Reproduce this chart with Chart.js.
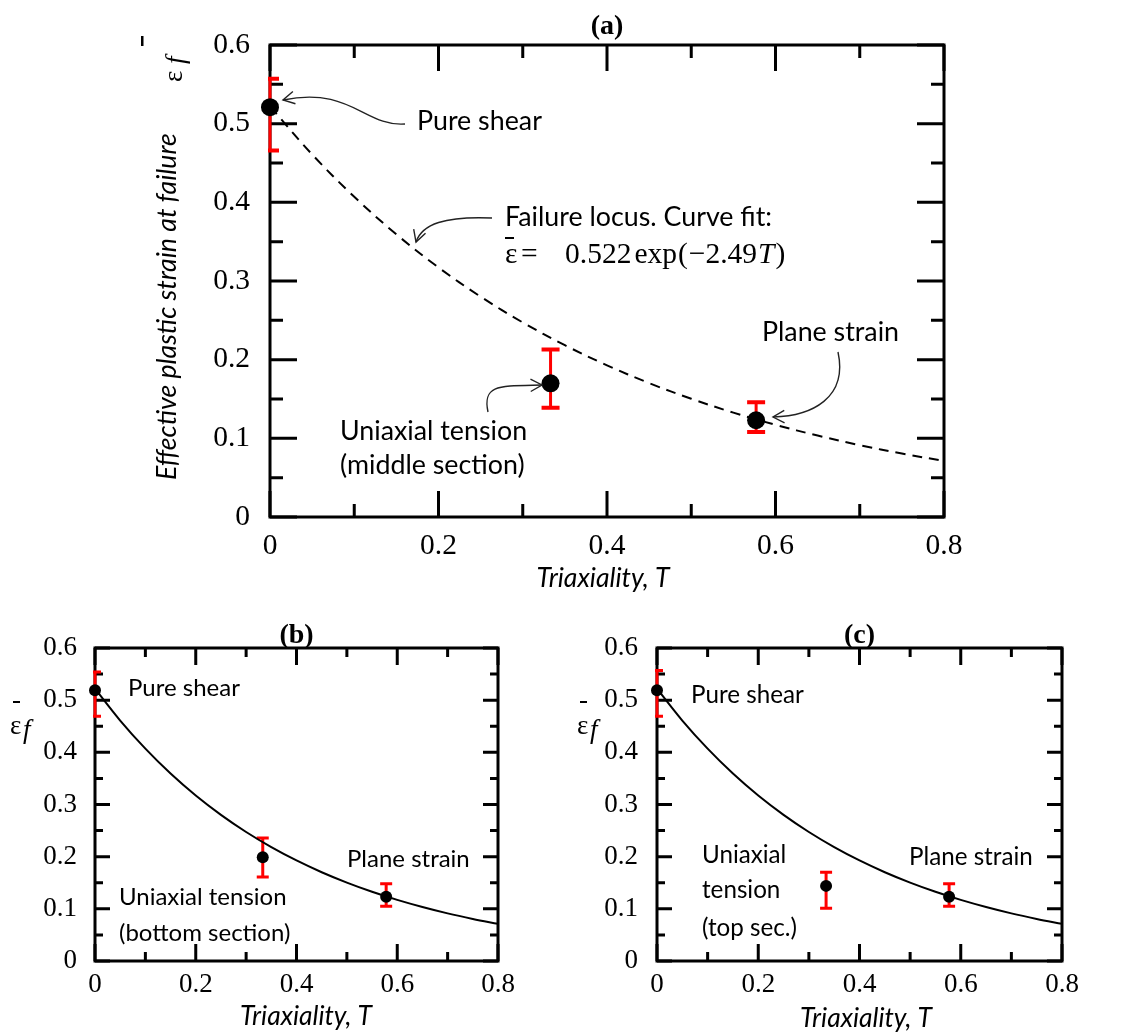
<!DOCTYPE html>
<html><head><meta charset="utf-8">
<script src="https://cdn.jsdelivr.net/npm/chart.js@4.4.1/dist/chart.umd.min.js"></script>
<style>
html,body{margin:0;padding:0;background:#fff;}
#wrap{position:relative;width:1136px;height:1032px;overflow:hidden;background:#fff;}
canvas{position:absolute;left:0;top:0;}
</style></head><body><div id="wrap">
<canvas id="ca" width="1136" height="1032"></canvas>
<canvas id="cb" width="1136" height="1032"></canvas>
<canvas id="cc" width="1136" height="1032"></canvas>
</div>
<script>
// ---------- data ----------
const xTickLabels = ['0', '0.2', '0.4', '0.6', '0.8'];
const yTickLabels = ['0', '0.1', '0.2', '0.3', '0.4', '0.5', '0.6'];
const xMajorTicks = [0, 0.2, 0.4, 0.6, 0.8];
const xMinorTicks = [0.1, 0.3, 0.5, 0.7];
const yMajorTicks = [0, 0.1, 0.2, 0.3, 0.4, 0.5, 0.6];
const yMinorTicks = [0.05, 0.15, 0.25, 0.35, 0.45, 0.55];
const caseNames = ['Pure shear', 'Uniaxial tension', 'Plane strain'];

// failure locus curve
const fitT = [0, 0.05, 0.10, 0.15, 0.20, 0.25, 0.30, 0.35, 0.40, 0.45, 0.50, 0.55, 0.60, 0.65, 0.70, 0.75, 0.80];
const fitStrain = [0.5220, 0.4609, 0.4070, 0.3593, 0.3172, 0.2801, 0.2473, 0.2184, 0.1928, 0.1702, 0.1503, 0.1327, 0.1172, 0.1035, 0.0913, 0.0807, 0.0712];

// (a) middle section
const triaxA = [0, 0.333, 0.577];
const strainA = [0.521, 0.170, 0.123];
const lowA = [0.466, 0.139, 0.108];
const highA = [0.557, 0.213, 0.146];
// (b) bottom section
const triaxB = [0, 0.333, 0.578];
const strainB = [0.519, 0.199, 0.123];
const lowB = [0.469, 0.161, 0.105];
const highB = [0.554, 0.236, 0.148];
// (c) top section
const triaxC = [0, 0.334, 0.577];
const strainC = [0.519, 0.144, 0.123];
const lowC = [0.469, 0.101, 0.105];
const highC = [0.557, 0.170, 0.148];

// ---------- helpers ----------
const SANS = 'Lato, "Open Sans", sans-serif';
const SERIF = '"Liberation Serif", "DejaVu Serif", serif';

function fitSize(ctx, text, tpl, target) {
  ctx.font = tpl(100);
  return 100 * target / ctx.measureText(text).width;
}
function text(ctx, s, x, y, font, align) {
  ctx.font = font; ctx.textAlign = align || 'left'; ctx.textBaseline = 'middle';
  ctx.fillStyle = '#000'; ctx.fillText(s, x, y);
}
function arrowHead(ctx, x, y, fx, fy, size) {
  const a = Math.atan2(y - fy, x - fx);
  ctx.beginPath();
  ctx.moveTo(x - size * Math.cos(a - 0.5), y - size * Math.sin(a - 0.5));
  ctx.lineTo(x, y);
  ctx.lineTo(x - size * Math.cos(a + 0.5), y - size * Math.sin(a + 0.5));
  ctx.stroke();
}
function curveArrow(ctx, p, head) {
  ctx.save();
  ctx.strokeStyle = '#222'; ctx.lineWidth = 1.4;
  ctx.beginPath(); ctx.moveTo(p[0], p[1]);
  ctx.bezierCurveTo(p[2], p[3], p[4], p[5], p[6], p[7]);
  ctx.stroke();
  arrowHead(ctx, p[6], p[7], p[4], p[5], head);
  ctx.restore();
}

function makeDeco(spec) {
  return {
    id: 'deco',
    beforeDatasetsDraw(chart) {
      const { ctx, chartArea: a, scales: { x, y } } = chart;
      ctx.save();
      ctx.strokeStyle = '#000';
      ctx.lineWidth = spec.frameW;
      ctx.strokeRect(a.left, a.top, a.right - a.left, a.bottom - a.top);
      ctx.lineWidth = spec.tickW;
      ctx.beginPath();
      [[xMajorTicks, spec.xMaj], [xMinorTicks, spec.xMin]].forEach(([list, len]) => list.forEach(v => {
        const px = x.getPixelForValue(v);
        ctx.moveTo(px, a.bottom); ctx.lineTo(px, a.bottom - len);
        ctx.moveTo(px, a.top); ctx.lineTo(px, a.top + len);
      }));
      [[yMajorTicks, spec.yMaj], [yMinorTicks, spec.yMin]].forEach(([list, len]) => list.forEach(v => {
        const py = y.getPixelForValue(v);
        ctx.moveTo(a.left, py); ctx.lineTo(a.left + len, py);
        ctx.moveTo(a.right, py); ctx.lineTo(a.right - len, py);
      }));
      ctx.stroke();
      // error bars
      ctx.beginPath();
      ctx.rect(a.left - 2, a.top, a.right - a.left + 4, a.bottom - a.top);
      ctx.clip();
      ctx.strokeStyle = '#ff0000';
      spec.T.forEach((t, i) => {
        const px = x.getPixelForValue(t);
        const lo = y.getPixelForValue(spec.low[i]);
        const hi = y.getPixelForValue(spec.high[i]);
        ctx.lineWidth = spec.barW;
        ctx.beginPath(); ctx.moveTo(px, lo); ctx.lineTo(px, hi); ctx.stroke();
        ctx.lineWidth = spec.capT;
        ctx.beginPath();
        ctx.moveTo(px - spec.capW / 2, lo); ctx.lineTo(px + spec.capW / 2, lo);
        ctx.moveTo(px - spec.capW / 2, hi); ctx.lineTo(px + spec.capW / 2, hi);
        ctx.stroke();
      });
      ctx.restore();
    },
    afterDraw(chart) {
      const { ctx, chartArea: a } = chart;
      ctx.save();
      const cx = (a.left + a.right) / 2;
      text(ctx, spec.title, cx, a.top - spec.titleGap, 'bold ' + spec.titleSize + 'px ' + SERIF, 'center');
      spec.annotate(ctx, chart);
      ctx.restore();
    }
  };
}

function makeChart(id, T, S, spec, box) {
  const curveData = fitT.map((t, i) => ({ x: t, y: fitStrain[i] }));
  const ptsData = T.map((t, i) => ({ x: t, y: S[i] }));
  return new Chart(document.getElementById(id), {
    type: 'scatter',
    data: {
      datasets: [
        { label: 'Failure locus', data: curveData, showLine: true, borderColor: '#000',
          borderWidth: spec.curveW, borderDash: spec.dash, pointRadius: 0,
          tension: 0.35, fill: false },
        { label: caseNames.join(', '), data: ptsData, showLine: false, pointRadius: spec.ptR,
          pointBackgroundColor: '#000', pointBorderWidth: 0, clip: false }
      ]
    },
    options: {
      responsive: false, animation: false, devicePixelRatio: 1, events: [],
      layout: { padding: { left: 0, top: box.top, right: box.right, bottom: 0 } },
      plugins: { legend: { display: false }, tooltip: { enabled: false }, title: { display: false } },
      scales: {
        x: {
          type: 'linear', min: 0, max: 0.8,
          afterBuildTicks: s => { s.ticks = xMajorTicks.map(v => ({ value: v })); },
          afterFit: s => { s.height = box.xH; },
          ticks: { callback: (v, i) => xTickLabels[i], font: { family: SERIF, size: spec.tickSize },
                   color: '#000', padding: spec.xPad, maxRotation: 0, autoSkip: false },
          grid: { display: false, drawTicks: false }, border: { display: false }
        },
        y: {
          type: 'linear', min: 0, max: 0.6,
          afterBuildTicks: s => { s.ticks = yMajorTicks.map(v => ({ value: v })); },
          afterFit: s => { s.width = box.yW; },
          ticks: { callback: (v, i) => yTickLabels[i], font: { family: SERIF, size: spec.tickSize },
                   color: '#000', padding: spec.yPad, autoSkip: false },
          grid: { display: false, drawTicks: false }, border: { display: false }
        }
      }
    },
    plugins: [makeDeco(spec)]
  });
}

// ---------- annotations ----------
function annotA(ctx, chart) {
  const fs = fitSize(ctx, 'Pure shear', s => s + 'px ' + SANS, 125);
  const f = fs.toFixed(1) + 'px ' + SANS;
  text(ctx, caseNames[0], 417, 121, f);
  text(ctx, 'Failure locus. Curve fit:', 505, 217, f);
  text(ctx, 'Uniaxial tension', 340, 431, f);
  text(ctx, '(middle section)', 340, 465, f);
  text(ctx, caseNames[2], 762, 332, f);
  // equation  ε̄ = 0.522 exp(−2.49T), laid out left to right
  const es = fitSize(ctx, '0.522 exp(\u22122.49T)', s => s + 'px ' + SERIF, 222).toFixed(1);
  ctx.textBaseline = 'alphabetic'; ctx.textAlign = 'left'; ctx.fillStyle = '#000';
  ctx.font = es + 'px ' + SERIF;
  ctx.fillText('\u03B5', 505, 263);
  ctx.fillText('=', 521, 263);
  let xp = 565;
  const seq = [['0.522', '', 3], ['exp', '', 1], ['(', '', 1], ['\u22122.49', '', 1], ['T', 'italic ', 1], [')', '', 0]];
  seq.forEach(([s, st, gap]) => {
    ctx.font = st + es + 'px ' + SERIF;
    ctx.fillText(s, xp, 263);
    xp += ctx.measureText(s).width + gap;
  });
  ctx.fillRect(505, 237, 9, 2);
  // arrows
  curveArrow(ctx, [405, 124, 365, 127, 350, 86, 283, 100], 13);
  curveArrow(ctx, [492, 218, 445, 216, 422, 224, 416, 242], 13);
  curveArrow(ctx, [488, 412, 482, 384, 500, 386, 542, 385], 13);
  curveArrow(ctx, [838, 352, 848, 398, 812, 416, 773, 417], 13);
  // axis titles
  const ft = fitSize(ctx, 'Triaxiality, T', s => 'italic ' + s + 'px ' + SANS, 133);
  text(ctx, 'Triaxiality, T', 603, 578, 'italic ' + ft.toFixed(1) + 'px ' + SANS, 'center');
  const fy = fitSize(ctx, 'Effective plastic strain at failure', s => 'italic ' + s + 'px ' + SANS, 347);
  ctx.save();
  ctx.translate(167, 480); ctx.rotate(-Math.PI / 2);
  text(ctx, 'Effective plastic strain at failure', 0, 0, 'italic ' + fy.toFixed(1) + 'px ' + SANS);
  ctx.textBaseline = 'alphabetic';
  ctx.font = '27px ' + SERIF; ctx.fillText('\u03B5', 398, 15);
  ctx.font = 'italic 27px ' + SERIF; ctx.fillText('f', 416, 17);
  ctx.fillRect(434, -26, 10, 2.5);
  ctx.restore();
}
function yLabelSmall(ctx, x0) {
  ctx.save();
  ctx.textBaseline = 'alphabetic'; ctx.textAlign = 'left'; ctx.fillStyle = '#000';
  ctx.font = '27px ' + SERIF; ctx.fillText('\u03B5', x0, 734);
  ctx.font = 'italic 27px ' + SERIF; ctx.fillText('f', x0 + 13, 738);
  ctx.fillRect(x0 + 3, 701, 7, 2);
  ctx.restore();
}
function annotB(ctx) {
  const fs = fitSize(ctx, 'Plane strain', s => s + 'px ' + SANS, 123);
  const f = fs.toFixed(1) + 'px ' + SANS;
  text(ctx, caseNames[0], 128, 688, f);
  text(ctx, 'Uniaxial tension', 119, 897, f);
  text(ctx, '(bottom section)', 119, 933, f);
  text(ctx, caseNames[2], 347, 859, f);
  const ft = fitSize(ctx, 'Triaxiality, T', s => 'italic ' + s + 'px ' + SANS, 132);
  text(ctx, 'Triaxiality, T', 306, 1016, 'italic ' + ft.toFixed(1) + 'px ' + SANS, 'center');
  yLabelSmall(ctx, 10);
}
function annotC(ctx) {
  const fs = fitSize(ctx, 'Plane strain', s => s + 'px ' + SANS, 124);
  const f = fs.toFixed(1) + 'px ' + SANS;
  text(ctx, caseNames[0], 691, 695, f);
  text(ctx, 'Uniaxial', 702, 855, f);
  text(ctx, 'tension', 702, 890, f);
  text(ctx, '(top sec.)', 702, 928, f);
  text(ctx, caseNames[2], 909, 857, f);
  const ft = fitSize(ctx, 'Triaxiality, T', s => 'italic ' + s + 'px ' + SANS, 132);
  text(ctx, 'Triaxiality, T', 866, 1018, 'italic ' + ft.toFixed(1) + 'px ' + SANS, 'center');
  yLabelSmall(ctx, 577);
}

// ---------- charts ----------
makeChart('ca', triaxA, strainA, {
  title: '(a)', titleSize: 28, titleGap: 18, tickSize: 29.5, xPad: 12, yPad: 20,
  frameW: 3, tickW: 3, xMaj: 26, xMin: 13, yMaj: 27, yMin: 13,
  T: triaxA, low: lowA, high: highA, barW: 3, capW: 18, capT: 4,
  curveW: 2, dash: [10, 7], ptR: 9, annotate: annotA
}, { top: 45, right: 192, xH: 515, yW: 270 });

makeChart('cb', triaxB, strainB, {
  title: '(b)', titleSize: 28, titleGap: 12, tickSize: 27, xPad: 8, yPad: 18,
  frameW: 3, tickW: 3, xMaj: 17, xMin: 9, yMaj: 15, yMin: 8,
  T: triaxB, low: lowB, high: highB, barW: 3, capW: 12, capT: 3,
  curveW: 2, dash: [], ptR: 6, annotate: annotB
}, { top: 648, right: 638, xH: 71, yW: 95 });

makeChart('cc', triaxC, strainC, {
  title: '(c)', titleSize: 28, titleGap: 12, tickSize: 27, xPad: 8, yPad: 19,
  frameW: 3, tickW: 3, xMaj: 17, xMin: 9, yMaj: 15, yMin: 8,
  T: triaxC, low: lowC, high: highC, barW: 3, capW: 12, capT: 3,
  curveW: 2, dash: [], ptR: 6, annotate: annotC
}, { top: 648, right: 74, xH: 71, yW: 657 });
</script>
</body></html>
